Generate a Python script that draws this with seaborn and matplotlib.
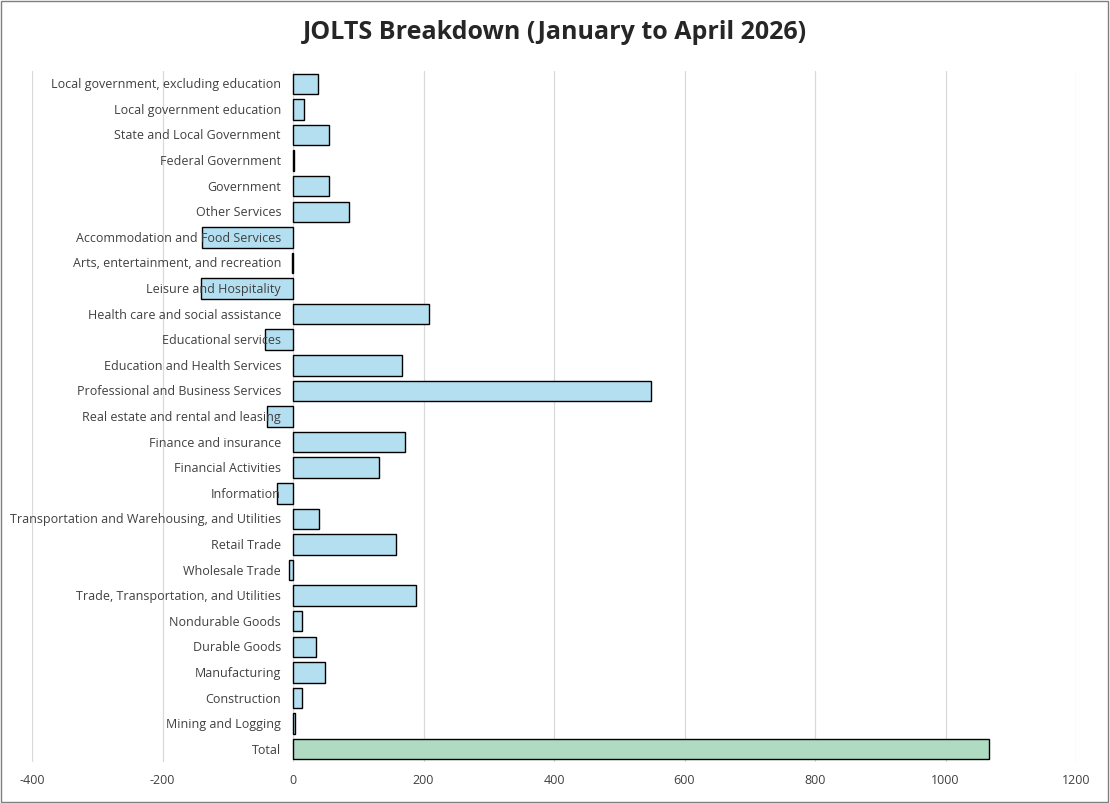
import matplotlib
matplotlib.use("Agg")
import matplotlib.pyplot as plt
import matplotlib.transforms as mtransforms
from matplotlib.patches import Rectangle
import seaborn as sns
import pandas as pd

categories = [
    "Local government, excluding education", "Local government education",
    "State and Local Government", "Federal Government", "Government",
    "Other Services", "Accommodation and Food Services",
    "Arts, entertainment, and recreation", "Leisure and Hospitality",
    "Health care and social assistance", "Educational services",
    "Education and Health Services", "Professional and Business Services",
    "Real estate and rental and leasing", "Finance and insurance",
    "Financial Activities", "Information",
    "Transportation and Warehousing, and Utilities", "Retail Trade",
    "Wholesale Trade", "Trade, Transportation, and Utilities",
    "Nondurable Goods", "Durable Goods", "Manufacturing", "Construction",
    "Mining and Logging", "Total",
]
values = [38, 17, 55, 2, 55, 86, -139, -2, -141, 208, -43, 167, 548, -40,
          172, 132, -24, 40, 158, -6, 188, 14, 35, 49, 14, 3, 1066]
xticks = [-400, -200, 0, 200, 400, 600, 800, 1000, 1200]

df = pd.DataFrame({"cat": categories, "val": values})
palette = ["#A9E4FB"] * (len(categories) - 1) + ["#A6E3C0"]

sns.set_theme(style="white")
plt.rcParams['font.family'] = ['Open Sans', 'DejaVu Sans']

fig = plt.figure(figsize=(11.1, 8.04), dpi=100)
ax = fig.add_axes([32 / 1110, 41 / 804, (1076 - 32) / 1110, (732 - 41) / 804])
sns.barplot(data=df, x="val", y="cat", hue="cat", palette=palette, legend=False,
            orient="h", ax=ax, width=0.8, edgecolor="black", linewidth=1.0, zorder=3)
ax.set_xlim(-400, 1200)
ax.set_ylim(len(categories) - 0.5, -0.5)
ax.set_xticks(xticks)
ax.set_xticklabels([str(t) for t in xticks], fontsize=9, color="#404040")
ax.tick_params(axis="x", length=0, pad=8)
ax.set_yticks([])
ax.set_xlabel("")
ax.set_ylabel("")
ax.grid(axis="x", color="#D9D9D9", linewidth=0.9, zorder=0)
for s in ax.spines.values():
    s.set_visible(False)

trans = mtransforms.offset_copy(ax.transData, fig=fig, x=-12, y=0, units="dots")
for i, c in enumerate(categories):
    ax.text(0, i, c, transform=trans, ha="right", va="center", fontsize=9,
            color="#404040", zorder=5)

fig.suptitle("JOLTS Breakdown (January to April 2026)", fontsize=18,
             fontweight="bold", y=0.975)
fig.patches.append(Rectangle((0.001, 0.001), 0.997, 0.997, transform=fig.transFigure,
                             fill=False, edgecolor="#7F7F7F", linewidth=1))
fig.savefig("out.png", dpi=100)
